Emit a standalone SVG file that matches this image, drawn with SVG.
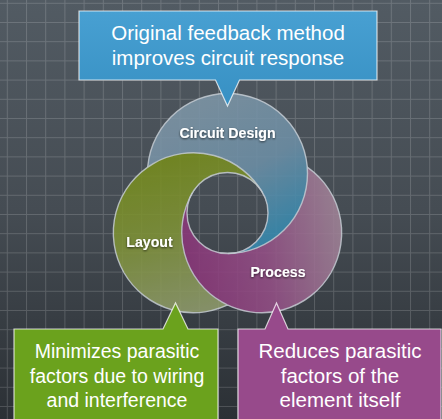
<svg xmlns="http://www.w3.org/2000/svg" width="442" height="419" viewBox="0 0 442 419">
  <defs>
    <linearGradient id="bg" x1="0" y1="0" x2="0" y2="419" gradientUnits="userSpaceOnUse">
      <stop offset="0" stop-color="#525b63"/>
      <stop offset="0.5" stop-color="#454c53"/>
      <stop offset="1" stop-color="#2b3035"/>
    </linearGradient>
    <pattern id="grid" x="6.8" y="2.8" width="19.2" height="19.2" patternUnits="userSpaceOnUse">
      <path d="M0.5,0 V19.2 M0,0.5 H19.2" fill="none" stroke="#ffffff" stroke-opacity="0.16" stroke-width="1"/>
    </pattern>
    <linearGradient id="gBlue" x1="200" y1="95" x2="285" y2="250" gradientUnits="userSpaceOnUse">
      <stop offset="0" stop-color="#7f96a7"/>
      <stop offset="0.5" stop-color="#6d8fa6"/>
      <stop offset="1" stop-color="#2a89b2"/>
    </linearGradient>
    <linearGradient id="gGreen" x1="150" y1="155" x2="190" y2="312" gradientUnits="userSpaceOnUse">
      <stop offset="0" stop-color="#758b1a"/>
      <stop offset="0.5" stop-color="#7f9238"/>
      <stop offset="1" stop-color="#8f9b6c"/>
    </linearGradient>
    <linearGradient id="gPink" x1="185" y1="260" x2="340" y2="230" gradientUnits="userSpaceOnUse">
      <stop offset="0" stop-color="#8a3679"/>
      <stop offset="0.5" stop-color="#944f86"/>
      <stop offset="1" stop-color="#a08397"/>
    </linearGradient>
    <linearGradient id="gBoxBlue" x1="0" y1="11" x2="0" y2="106" gradientUnits="userSpaceOnUse">
      <stop offset="0" stop-color="#48a0d2"/>
      <stop offset="1" stop-color="#3790c3"/>
    </linearGradient>
    <clipPath id="clipRight"><rect x="227" y="0" width="215" height="419"/></clipPath>
    <clipPath id="clipLeft"><rect x="0" y="0" width="227.8" height="419"/></clipPath>
    <filter id="shadow" x="-20%" y="-40%" width="140%" height="180%">
      <feDropShadow dx="0" dy="1" stdDeviation="1" flood-color="#000000" flood-opacity="0.65"/>
    </filter>
    <!-- full rings (circle minus central hole) -->
    <path id="blueFull" fill-rule="evenodd" d="M147.5,173.5 a80,80 0 1 0 160,0 a80,80 0 1 0 -160,0 Z M187,213 a40.5,40.5 0 1 0 81,0 a40.5,40.5 0 1 0 -81,0 Z"/>
    <path id="greenFull" fill-rule="evenodd" d="M113.292,232.75 a80,80 0 1 0 160,0 a80,80 0 1 0 -160,0 Z M187,213 a40.5,40.5 0 1 0 81,0 a40.5,40.5 0 1 0 -81,0 Z"/>
    <path id="pinkFull" fill-rule="evenodd" d="M181.708,232.75 a80,80 0 1 0 160,0 a80,80 0 1 0 -160,0 Z M187,213 a40.5,40.5 0 1 0 81,0 a40.5,40.5 0 1 0 -81,0 Z"/>
    <!-- overlapping halves -->
    <path id="blueOver" d="M227.5,93.5 A80,80 0 0 1 227.5,253.5 A40.5,40.5 0 0 0 227.5,172.5 Z"/>
    <path id="greenOver" d="M124.01,272.75 A80,80 0 0 1 262.574,192.75 A40.5,40.5 0 0 0 192.426,233.25 Z"/>
    <path id="pinkOver" d="M330.99,272.75 A80,80 0 0 1 192.426,192.75 A40.5,40.5 0 0 0 262.574,233.25 Z"/>
    <path id="blueUnderArc" d="M227.5,93.5 A80,80 0 0 0 227.5,253.5"/>
    <path id="blueOverArc" d="M227.5,93.5 A80,80 0 0 1 227.5,253.5"/>
    <path id="greenUnderArc" d="M124.01,272.75 A80,80 0 0 0 262.574,192.75"/>
    <path id="greenOverArc" d="M124.01,272.75 A80,80 0 0 1 262.574,192.75"/>
    <path id="pinkUnderArc" d="M330.99,272.75 A80,80 0 0 0 192.426,192.75"/>
    <path id="pinkOverArc" d="M330.99,272.75 A80,80 0 0 1 192.426,192.75"/>
  </defs>
  <style>
    .edge { fill: none; stroke: #d3dbe2; stroke-opacity: 0.85; stroke-width: 1.4; }
    .blue { fill: url(#gBlue); }
    .green { fill: url(#gGreen); }
    .pink { fill: url(#gPink); }
    .label { font-family: "Liberation Sans", Arial, sans-serif; font-weight: bold; font-size: 14.2px; fill: #ffffff; text-anchor: middle; }
    .callout-text { font-family: "Liberation Sans", Arial, sans-serif; fill: #ffffff; text-anchor: middle; }
    .box { stroke: #ffffff; stroke-opacity: 0.75; stroke-width: 1.2; }
  </style>

  <!-- background -->
  <rect x="0" y="0" width="442" height="419" fill="url(#bg)"/>
  <rect x="0" y="0" width="442" height="419" fill="url(#grid)"/>

  <!-- interlocking rings -->
  <g id="rings" opacity="0.88">
    <g id="under-layer">
      <use href="#blueFull" class="blue"/>
      <use href="#blueUnderArc" class="edge"/>
      <use href="#greenFull" class="green"/>
      <use href="#greenUnderArc" class="edge"/>
      <use href="#pinkFull" class="pink"/>
      <use href="#pinkUnderArc" class="edge"/>
    </g>
    <g id="over-layer">
      <g clip-path="url(#clipRight)">
        <use href="#pinkOver" class="pink"/>
        <use href="#pinkOverArc" class="edge"/>
      </g>
      <use href="#blueOver" class="blue"/>
      <use href="#blueOverArc" class="edge"/>
      <use href="#greenOver" class="green"/>
      <use href="#greenOverArc" class="edge"/>
      <g clip-path="url(#clipLeft)">
        <use href="#pinkOver" class="pink"/>
        <use href="#pinkOverArc" class="edge"/>
      </g>
    </g>
    <circle cx="227.5" cy="213" r="40.5" class="edge"/>
  </g>

  <g id="node-circuit-design">
    <text class="label" x="227.5" y="137.5" filter="url(#shadow)">Circuit Design</text>
  </g>
  <g id="node-layout">
    <text class="label" x="149.5" y="247" filter="url(#shadow)">Layout</text>
  </g>
  <g id="node-process">
    <text class="label" x="278" y="277" filter="url(#shadow)">Process</text>
  </g>

  <!-- callouts -->
  <g id="callout-feedback">
    <path class="box" fill="url(#gBoxBlue)" d="M79,11 H377 V80 H239.5 L227.5,106 L215.5,80 H79 Z"/>
    <text class="callout-text" font-size="20.5" x="228" y="40">Original feedback method</text>
    <text class="callout-text" font-size="20.5" x="228" y="64.5">improves circuit response</text>
  </g>
  <g id="callout-layout">
    <path class="box" fill="#6ba21d" d="M14,329 H163 L175.5,303 L188,329 H218 V430 H14 Z"/>
    <text class="callout-text" font-size="19.5" x="117" y="358">Minimizes parasitic</text>
    <text class="callout-text" font-size="19.5" x="117" y="382.5">factors due to wiring</text>
    <text class="callout-text" font-size="19.5" x="117" y="407">and interference</text>
  </g>
  <g id="callout-process">
    <path class="box" fill="#974a8b" d="M238,329 H265 L276.5,303 L288,329 H441 V430 H238 Z"/>
    <text class="callout-text" font-size="20.5" x="340" y="358">Reduces parasitic</text>
    <text class="callout-text" font-size="20.5" x="340" y="382.5">factors of the</text>
    <text class="callout-text" font-size="20.5" x="340" y="407">element itself</text>
  </g>
</svg>
